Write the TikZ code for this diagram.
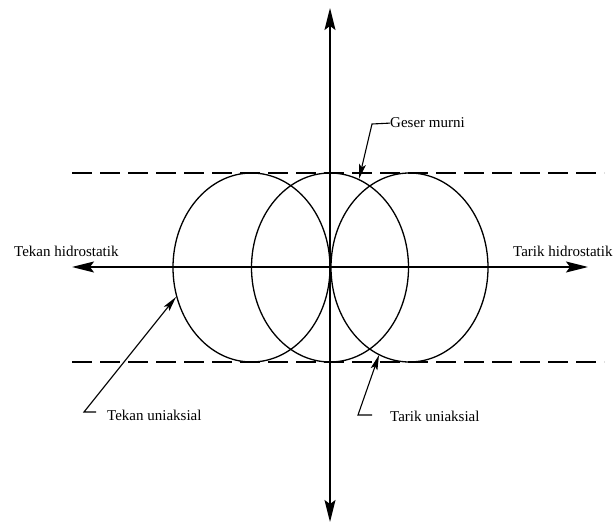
\documentclass[tikz,border=0pt]{standalone}
\usepackage{fontspec}
\setmainfont{Liberation Serif}
\usetikzlibrary{arrows.meta,calc}
\begin{document}
\begin{tikzpicture}[x=1pt, y=-1pt,
  axis/.style={line width=1.5pt, -{Stealth[length=22pt, width=11pt, inset=4pt]}},
  ring/.style={line width=1.3pt},
  bound/.style={line width=1.5pt, dash pattern=on 20pt off 8pt},
  leader/.style={line width=1.1pt, -{Stealth[length=15pt, width=7pt, inset=3pt]}},
  txt/.style={font=\fontsize{15}{17}\selectfont, inner sep=0pt, anchor=base west},
]
\useasboundingbox (0,0) rectangle (614,524);

% axes
\coordinate (o) at (330,267);
\coordinate (n) at (330,8);
\coordinate (s) at (330,522);
\coordinate (w) at (72,267);
\coordinate (e) at (588,267);
\foreach \p in {n,s,w,e}{ \draw[axis] (o) -- (\p); }

% limits of the yield surface
\coordinate (tl) at (72,173);
\coordinate (tr) at (604,173);
\coordinate (bl) at (72,362);
\coordinate (br) at (604,362);
\draw[bound] (tl) -- (tr);
\draw[bound] (bl) -- (br);

% three ellipses
\foreach \cx/\nm in {251.5/cl,330/cm,409.5/cr}{
  \coordinate (\nm) at (\cx,267.5);
  \draw[ring] (\nm) ellipse [x radius=78.5, y radius=94.5];
}

% labels
\node[txt] (th) at (14,257)  {Tekan hidrostatik};
\node[txt] (rh) at (513,257) {Tarik hidrostatik};
\node[txt] (gm) at (390,128) {Geser murni};
\node[txt] (tu) at (107,420) {Tekan uniaksial};
\node[txt] (ru) at (390,421) {Tarik uniaksial};

% leaders
\coordinate (gm-k) at (372,124);
\coordinate (gm-t) at (359,179);
\draw[leader] (gm.west) -- (gm-k) -- (gm-t);

\coordinate (tu-a) at (96,412);
\coordinate (tu-k) at (84,412);
\coordinate (tu-t) at (176,297);
\draw[leader] (tu-a) -- (tu-k) -- (tu-t);

\coordinate (ru-a) at (372,415);
\coordinate (ru-k) at (358,415);
\coordinate (ru-t) at (379,355);
\draw[leader] (ru-a) -- (ru-k) -- (ru-t);
\end{tikzpicture}
\end{document}
